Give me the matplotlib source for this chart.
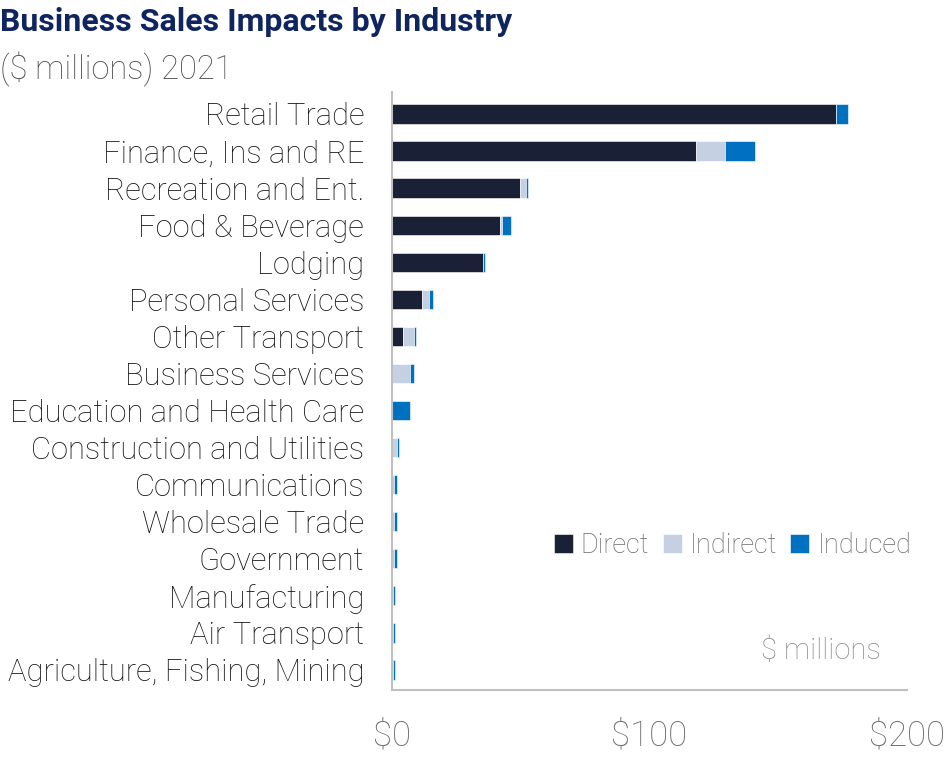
import matplotlib
matplotlib.use('Agg')
import matplotlib.pyplot as plt
import numpy as np

plt.rcParams['font.family'] = ['Roboto', 'DejaVu Sans']

# Business sales impacts, $ millions, 2021
industries = ['Retail Trade', 'Finance, Ins and RE', 'Recreation and Ent.',
              'Food & Beverage', 'Lodging', 'Personal Services', 'Other Transport',
              'Business Services', 'Education and Health Care',
              'Construction and Utilities', 'Communications', 'Wholesale Trade',
              'Government', 'Manufacturing', 'Air Transport',
              'Agriculture, Fishing, Mining']
direct = [172.5, 118.2, 49.6, 41.9, 35.4, 11.8, 4.3, 0.0, 0.0, 0.0, 0.0, 0.0, 0.0, 0.0, 0.0, 0.0]
indirect = [0.0, 11.0, 2.3, 0.7, 0.0, 2.6, 4.1, 6.9, 0.0, 1.8, 0.9, 0.9, 0.9, 0.2, 0.2, 0.2]
induced = [4.4, 11.8, 0.9, 3.6, 0.8, 1.6, 0.9, 1.6, 6.9, 0.9, 0.9, 0.9, 0.9, 0.8, 0.8, 0.8]
xticks = [0, 100, 200]
xticklabels = ['$0', '$100', '$200']

c_direct = '#1A2035'
c_indirect = '#C5D0E3'
c_induced = '#0070C0'

fig = plt.figure(figsize=(9.48, 7.58), dpi=100)
ax = fig.add_axes([0.4135, 0.0897, 0.5433, 0.7893])

y = np.arange(len(industries))
d = np.array(direct)
ind = np.array(indirect)
inu = np.array(induced)
h = 0.52
ax.barh(y, d, height=h, color=c_direct, label='Direct', edgecolor='white', linewidth=0.4)
ax.barh(y, ind, left=d, height=h, color=c_indirect, label='Indirect', edgecolor='white', linewidth=0.4)
ax.barh(y, inu, left=d + ind, height=h, color=c_induced, label='Induced', edgecolor='white', linewidth=0.4)

ax.set_ylim(15.54, -0.6)
ax.set_xlim(0, 200)
ax.set_yticks(y)
ax.set_yticklabels(industries, fontsize=22.2, color='#141414', fontweight='light')
ax.set_xticks(xticks)
ax.set_xticklabels(xticklabels, fontsize=25, color='#6B6B6B', fontweight='light')
ax.tick_params(axis='both', length=0)
ax.tick_params(axis='y', pad=20)
ax.tick_params(axis='x', pad=21)
for s in ['top', 'right']:
    ax.spines[s].set_visible(False)
for s in ['left', 'bottom']:
    ax.spines[s].set_color('#BFBFBF')
    ax.spines[s].set_linewidth(1.5)

leg = ax.legend(loc='upper left', bbox_to_anchor=(0.293, 0.283), ncol=3, frameon=False,
                fontsize=19.5, handlelength=0.7, handleheight=0.7, handletextpad=0.3,
                columnspacing=0.5, borderaxespad=0)
for t in leg.get_texts():
    t.set_color('#6B6B6B')
    t.set_fontweight('light')

ax.text(0.949, 0.066, '$ millions', transform=ax.transAxes, ha='right', va='center',
        fontsize=21, color='#8C8C8C', fontweight='light')

fig.text(0.0, 0.971, 'Business Sales Impacts by Industry', ha='left', va='center',
         fontsize=23, fontweight='bold', color='#0F2560')
fig.text(0.0, 0.908, '($ millions) 2021', ha='left', va='center',
         fontsize=23.5, color='#4D4D4D', fontweight='light')

fig.savefig('out.png', dpi=100)
